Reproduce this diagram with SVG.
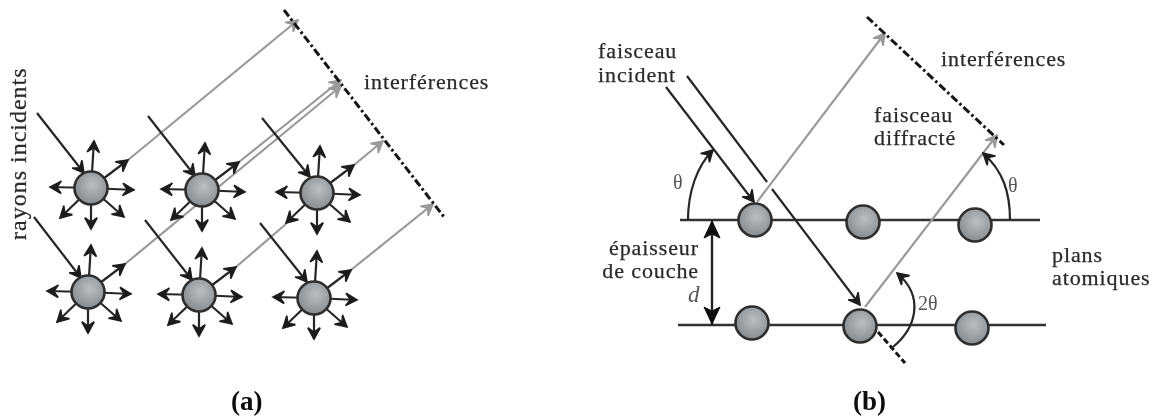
<svg xmlns="http://www.w3.org/2000/svg" width="1154" height="418" viewBox="0 0 1154 418">
<style>
text{font-family:"Liberation Serif","Times New Roman",serif;font-size:22px;letter-spacing:0.9px;fill:#2a2a2a;stroke:#2a2a2a;stroke-width:0.25}
.cap{font-weight:bold;font-size:27px;letter-spacing:0;fill:#111;stroke:none}
.k{fill:none;stroke:#262626;stroke-width:2.2;marker-end:url(#ah)}
.n{fill:none;stroke:#262626;stroke-width:2.2}
.g{fill:none;stroke:#9a9a9a;stroke-width:2.2;marker-end:url(#ag)}
.gn{fill:none;stroke:#9a9a9a;stroke-width:2.2}
.p{fill:none;stroke:#333;stroke-width:2.6}
.dd{fill:none;stroke:#141414;stroke-width:3;stroke-dasharray:8 3 2.5 3}
.atom{fill:url(#ball);stroke:#2e2e2e;stroke-width:2.6}
.sm{font-size:20px;letter-spacing:0;fill:#555;stroke:none}
</style>
<defs>
<radialGradient id="ball" cx="0.55" cy="0.4" r="0.65"><stop offset="0" stop-color="#bcbfc2"/><stop offset="1" stop-color="#85888b"/></radialGradient>
<marker id="ah" markerUnits="userSpaceOnUse" markerWidth="18" markerHeight="18" refX="11" refY="8" orient="auto" viewBox="0 0 14 16"><path d="M1 2.5 L11 8 L1 13.5 L5 8Z" fill="#1e1e1e" stroke="#1e1e1e" stroke-width="1.4"/></marker>
<marker id="ag" markerUnits="userSpaceOnUse" markerWidth="18" markerHeight="18" refX="11" refY="8" orient="auto" viewBox="0 0 14 16"><path d="M1 2.5 L11 8 L1 13.5 L5 8Z" fill="#9a9a9a" stroke="#9a9a9a" stroke-width="1.4"/></marker>
<filter id="soft" x="-2%" y="-2%" width="104%" height="104%"><feGaussianBlur stdDeviation="0.55"/></filter>
</defs>
<rect width="1154" height="418" fill="#fff"/>
<g filter="url(#soft)">
<g id="connectors">
<path class="g" d="M128 160L298 20"/>
<path class="g" d="M239 162L341 80"/>
<path class="g" d="M125 264L341 86"/>
<path class="gn" d="M236 267L286 224"/>
<path class="g" d="M354 165L383 141"/>
<path class="g" d="M351 270L433 204"/>
<path class="k" d="M37 113L84 173"/>
<path class="k" d="M148 116L195 176"/>
<path class="k" d="M262 118L310 177"/>
<path class="k" d="M34 217L81 278"/>
<path class="k" d="M145 220L192 280"/>
<path class="k" d="M260 223L307 282"/>
<path class="k" d="M91 188L94 141"/><path class="k" d="M91 188L50 187"/><path class="k" d="M91 188L134 190"/><path class="k" d="M91 188L91 229"/><path class="k" d="M91 188L128 160"/><path class="k" d="M91 188L60 218"/><path class="k" d="M91 188L124 217"/>
<path class="k" d="M202 190L205 143"/><path class="k" d="M202 190L161 189"/><path class="k" d="M202 190L245 192"/><path class="k" d="M202 190L202 231"/><path class="k" d="M202 190L239 162"/><path class="k" d="M202 190L171 220"/><path class="k" d="M202 190L235 219"/>
<path class="k" d="M317 193L320 146"/><path class="k" d="M317 193L276 192"/><path class="k" d="M317 193L360 195"/><path class="k" d="M317 193L317 234"/><path class="k" d="M317 193L354 165"/><path class="k" d="M317 193L286 223"/><path class="k" d="M317 193L350 222"/>
<path class="k" d="M88 292L91 245"/><path class="k" d="M88 292L47 291"/><path class="k" d="M88 292L131 294"/><path class="k" d="M88 292L88 333"/><path class="k" d="M88 292L125 264"/><path class="k" d="M88 292L57 322"/><path class="k" d="M88 292L121 321"/>
<path class="k" d="M199 295L202 248"/><path class="k" d="M199 295L158 294"/><path class="k" d="M199 295L242 297"/><path class="k" d="M199 295L199 336"/><path class="k" d="M199 295L236 267"/><path class="k" d="M199 295L168 325"/><path class="k" d="M199 295L232 324"/>
<path class="k" d="M314 298L317 251"/><path class="k" d="M314 298L273 297"/><path class="k" d="M314 298L357 300"/><path class="k" d="M314 298L314 339"/><path class="k" d="M314 298L351 270"/><path class="k" d="M314 298L283 328"/><path class="k" d="M314 298L347 327"/>
<path class="dd" d="M284 10L444 217"/>
<path class="p" d="M680 220H1040"/>
<path class="p" d="M678 325H1046"/>
<path class="g" d="M757 202L885 33"/>
<path class="g" d="M865 307L997 135"/>
<path class="k" d="M666 87L754 202"/>
<path class="n" d="M687 76L767 182"/>
<path class="k" d="M772 189L860 305"/>
<path class="dd" d="M867 17L1004 145"/>
<path class="dd" d="M878 332L905 363" style="stroke-dasharray:6 3"/>
<path class="k" d="M688 220C688 192 697 166 713 150"/>
<path class="k" d="M1010 220C1010 192 1003 171 983 153"/>
<path class="k" d="M893 347C916 328 925 297 897 273"/>
<path d="M712 220V325" fill="none" stroke="#222" stroke-width="2.4"/>
<path d="M712 221L720 238L712 234L704 238Z M712 324L720 307L712 311L704 307Z" fill="#111" stroke="#111"/>
</g>
<g id="atom-a1"><circle class="atom" cx="91" cy="188" r="16.5"/></g>
<g id="atom-a2"><circle class="atom" cx="202" cy="190" r="16.5"/></g>
<g id="atom-a3"><circle class="atom" cx="317" cy="193" r="16.5"/></g>
<g id="atom-a4"><circle class="atom" cx="88" cy="292" r="16.5"/></g>
<g id="atom-a5"><circle class="atom" cx="199" cy="295" r="16.5"/></g>
<g id="atom-a6"><circle class="atom" cx="314" cy="298" r="16.5"/></g>
<g id="atom-b1"><circle class="atom" cx="755" cy="220" r="16.5"/></g>
<g id="atom-b2"><circle class="atom" cx="863" cy="222" r="16.5"/></g>
<g id="atom-b3"><circle class="atom" cx="975" cy="225" r="16.5"/></g>
<g id="atom-b4"><circle class="atom" cx="752" cy="323" r="16.5"/></g>
<g id="atom-b5"><circle class="atom" cx="860" cy="326" r="16.5"/></g>
<g id="atom-b6"><circle class="atom" cx="972" cy="328" r="16.5"/></g>
<g id="labels">
<text transform="translate(26 240) rotate(-90)" style="font-size:24px;letter-spacing:1px">rayons incidents</text>
<text x="364" y="89">interférences</text>
<text class="cap" x="231" y="410">(a)</text>
<text x="598" y="58">faisceau</text>
<text x="598" y="82">incident</text>
<text x="941" y="66">interférences</text>
<text x="874" y="122">faisceau</text>
<text x="874" y="145">diffracté</text>
<text x="1052" y="262">plans</text>
<text x="1052" y="285">atomiques</text>
<text x="699" y="255" text-anchor="end">épaisseur</text>
<text x="699" y="278" text-anchor="end">de couche</text>
<text class="sm" x="688" y="302" style="font-style:italic;font-size:23px">d</text>
<text class="sm" x="673" y="189">θ</text>
<text class="sm" x="1008" y="192">θ</text>
<text class="sm" x="918" y="310">2θ</text>
<text class="cap" x="853" y="410">(b)</text>
</g>
</g>
</svg>
